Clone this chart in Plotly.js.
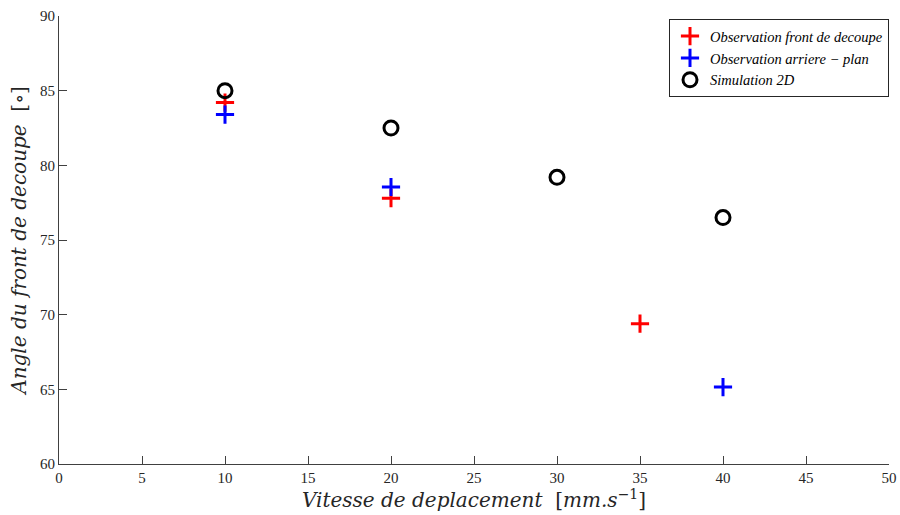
<!DOCTYPE html>
<html><head><meta charset="utf-8">
<script src="https://cdn.plot.ly/plotly-3.0.1.min.js"></script>
<style>html,body{margin:0;padding:0;background:#fff}#c{width:900px;height:515px}</style>
</head><body><div id="c"></div>
<script>
var frontX = [10, 20, 35];
var frontY = [84.2, 77.8, 69.4];
var arriereX = [10, 20, 40];
var arriereY = [83.4, 78.55, 65.15];
var simX = [10, 20, 30, 40];
var simY = [85, 82.5, 79.2, 76.5];
var names = ['Observation front de decoupe', 'Observation arriere − plan', 'Simulation 2D'];
var xTicks = [0, 5, 10, 15, 20, 25, 30, 35, 40, 45, 50];
var yTicks = [60, 65, 70, 75, 80, 85, 90];

var serif = '"Liberation Serif", "DejaVu Serif", serif';
var wide = '"DejaVu Serif", "Liberation Serif", serif';
var traces = [
  {x: frontX, y: frontY, mode: 'markers', type: 'scatter', name: names[0],
   marker: {symbol: 'cross-thin-open', size: 13, color: '#ff0000', line: {width: 3, color: '#ff0000'}}},
  {x: arriereX, y: arriereY, mode: 'markers', type: 'scatter', name: names[1],
   marker: {symbol: 'cross-thin-open', size: 13, color: '#0000ff', line: {width: 3, color: '#0000ff'}}},
  {x: simX, y: simY, mode: 'markers', type: 'scatter', name: names[2],
   marker: {symbol: 'circle-open', size: 14, color: '#000000', line: {width: 3, color: '#000000'}}}
];
var axisCommon = {
  showgrid: false, zeroline: false, showline: true, linecolor: '#404040', linewidth: 1,
  ticks: 'inside', ticklen: 8, tickcolor: '#404040', tickwidth: 1,
  tickfont: {family: serif, size: 15, color: '#262626'}
};
var layout = {
  width: 900, height: 515,
  margin: {l: 59, r: 11, t: 16, b: 51},
  paper_bgcolor: '#ffffff', plot_bgcolor: '#ffffff',
  showlegend: true,
  legend: {x: 1, xanchor: 'right', y: 0.993, yanchor: 'top', bgcolor: '#ffffff',
    bordercolor: '#262626', borderwidth: 1,
    font: {family: serif, size: 14.5, color: '#000', style: 'italic'},
    itemwidth: 30, tracegroupgap: 0},
  xaxis: Object.assign({}, axisCommon, {range: [0, 50], tickvals: xTicks, ticktext: xTicks.map(String),
    title: {text: '<i>Vitesse de deplacement</i>  [<i>mm.s</i><sup>−1</sup>]', standoff: 6,
      font: {family: wide, size: 20, color: '#262626'}}}),
  yaxis: Object.assign({}, axisCommon, {range: [60, 90], tickvals: yTicks, ticktext: yTicks.map(String),
    title: {text: '<i>Angle du front de decoupe</i>  [∘]', standoff: 8,
      font: {family: wide, size: 20, color: '#262626'}}})
};
Plotly.newPlot('c', traces, layout, {displayModeBar: false, staticPlot: true});
</script>
</body></html>
